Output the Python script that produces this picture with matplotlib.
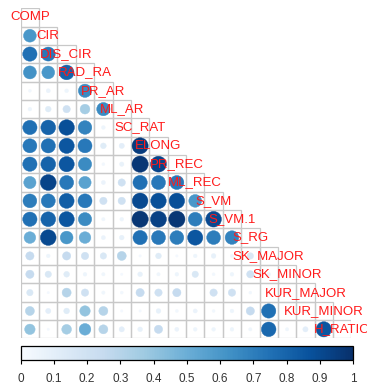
import numpy as np
import matplotlib as mpl
mpl.use('agg')
import matplotlib.pyplot as plt
from matplotlib.patches import Circle, Rectangle
from matplotlib.colors import LinearSegmentedColormap

## variable names (diagonal labels)
labels = ['COMP', 'CIR', 'DIS_CIR', 'RAD_RA', 'PR_AR', 'ML_AR', 'SC_RAT', 'ELONG',
          'PR_REC', 'ML_REC', 'S_VM', 'S_VM.1', 'S_RG', 'SK_MAJOR', 'SK_MINOR',
          'KUR_MAJOR', 'KUR_MINOR', 'H_RATIO']

## lower triangle, row i holds the values for columns 0..i-1
r01 = [0.60]
r02 = [0.75, 0.72]
r03 = [0.62, 0.60, 0.80]
r04 = [0.03, 0.06, 0.05, 0.65]
r05 = [0.05, 0.12, 0.20, 0.35, 0.65]
r06 = [0.75, 0.80, 0.88, 0.68, 0.05, 0.05]
r07 = [0.72, 0.75, 0.85, 0.72, 0.12, 0.10, 0.95]
r08 = [0.75, 0.80, 0.85, 0.65, 0.03, 0.07, 0.97, 0.92]
r09 = [0.55, 0.92, 0.72, 0.55, 0.06, 0.20, 0.75, 0.72, 0.72]
r10 = [0.70, 0.72, 0.82, 0.72, 0.20, 0.20, 0.90, 0.88, 0.88, 0.60]
r11 = [0.75, 0.80, 0.85, 0.65, 0.04, 0.05, 0.97, 0.93, 0.97, 0.70, 0.90]
r12 = [0.50, 0.90, 0.60, 0.50, 0.06, 0.08, 0.75, 0.72, 0.70, 0.85, 0.70, 0.68]
r13 = [0.25, 0.05, 0.25, 0.20, 0.15, 0.30, 0.02, 0.12, 0.02, 0.05, 0.08, 0.04, 0.15]
r14 = [0.25, 0.15, 0.12, 0.05, 0.04, 0.02, 0.08, 0.04, 0.05, 0.15, 0.03, 0.05, 0.20, 0.05]
r15 = [0.15, 0.02, 0.30, 0.20, 0.04, 0.03, 0.25, 0.20, 0.25, 0.00, 0.20, 0.20, 0.03, 0.03, 0.05]
r16 = [0.30, 0.10, 0.12, 0.40, 0.30, 0.02, 0.02, 0.08, 0.03, 0.06, 0.03, 0.05, 0.25, 0.75, 0.03, 0.05]
r17 = [0.40, 0.02, 0.35, 0.50, 0.30, 0.10, 0.08, 0.25, 0.06, 0.05, 0.05, 0.05, 0.04, 0.78, 0.04, 0.10, 0.85]
rows = [[], r01, r02, r03, r04, r05, r06, r07, r08, r09, r10, r11, r12, r13, r14, r15, r16, r17]

cbar_ticks = [0, 0.1, 0.2, 0.3, 0.4, 0.5, 0.6, 0.7, 0.8, 0.9, 1]

## Blues palette like corrplot COL1('Blues')
cmap = LinearSegmentedColormap.from_list('blues', ["#F7FBFF", "#DEEBF7", "#C6DBEF", "#9ECAE1", "#6BAED6",
                                                   "#4292C6", "#2171B5", "#08519C", "#08306B"], N=200)
norm = mpl.colors.Normalize(0, 1)

plt.rcParams['font.family'] = ['Liberation Sans', 'DejaVu Sans']

fig = plt.figure(figsize=(3.67, 3.83), dpi=100)
n = len(labels)

ax = fig.add_axes([0.0564, 0.1162, 0.901, 0.8624])
ax.set_xlim(0, n)
ax.set_ylim(n, 0)
ax.axis('off')

for i in range(n):
    for j in range(i + 1):
        ax.add_patch(Rectangle((j, i), 1, 1, facecolor='none', edgecolor='#C8C8C8', lw=0.9))
    for j, v in enumerate(rows[i]):
        c = cmap(norm(v))
        ax.add_patch(Circle((j + 0.5, i + 0.5), 0.45 * np.sqrt(abs(v)), facecolor=c, edgecolor=c, lw=0.3))

for i, lab in enumerate(labels):
    ax.text(i + 0.5, i + 0.5, lab, color='#FF1A1A', fontsize=9.5, ha='center', va='center', clip_on=False)

## colour bar
cax = fig.add_axes([0.0564, 0.060, 0.9055, 0.0366])
cb = mpl.colorbar.ColorbarBase(cax, cmap=cmap, norm=norm, orientation='horizontal', ticks=cbar_ticks)
cb.outline.set_linewidth(0.9)
cb.set_ticklabels([('%g' % t) for t in cbar_ticks])
cax.tick_params(axis='x', length=3, width=0.8, labelsize=8.5, pad=6, colors='black')
cax.tick_params(axis='x', labelcolor='#333333')

fig.savefig('out.png', dpi=100)
